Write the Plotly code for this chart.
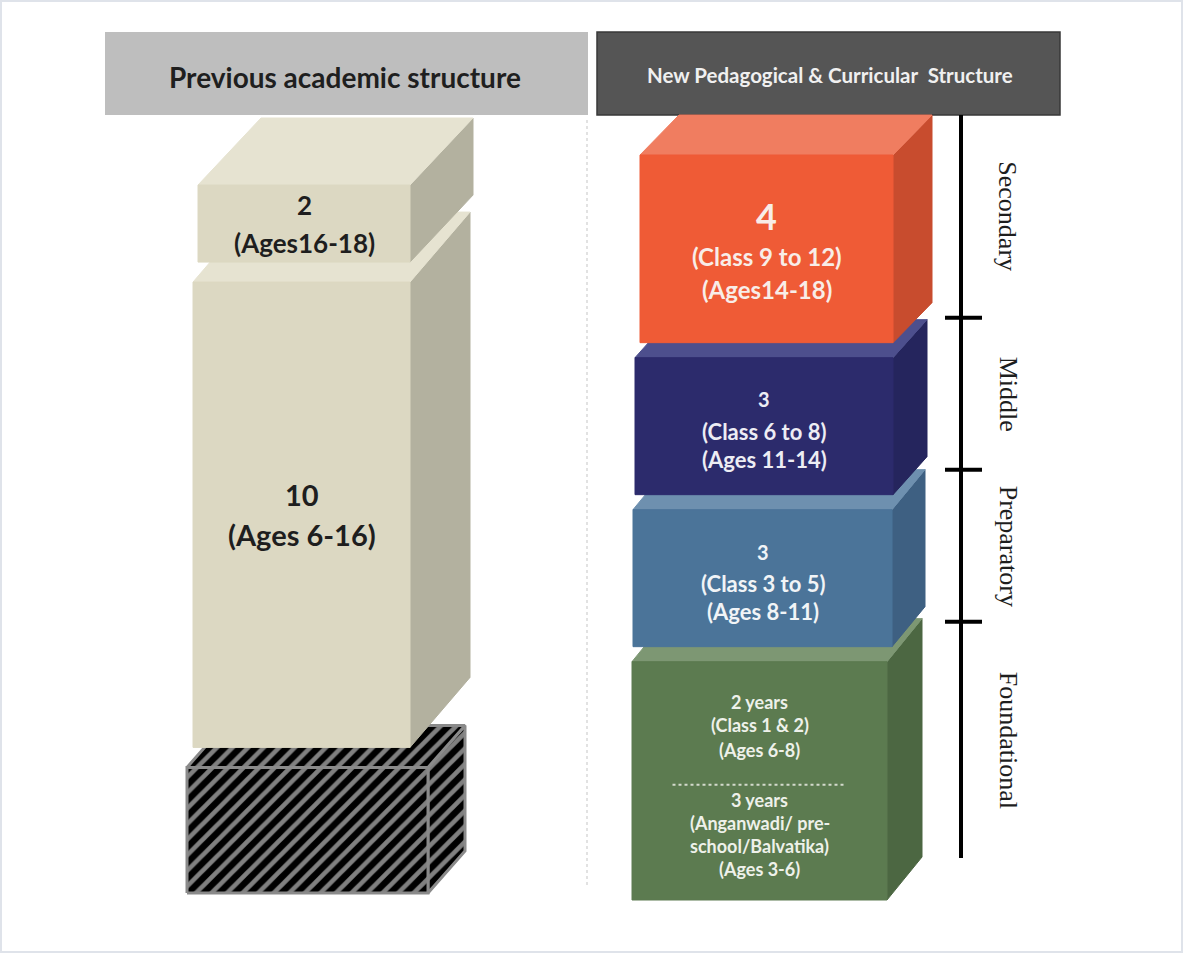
import plotly.graph_objects as go

# ---------------- data ----------------
# Previous 10+2 structure (bottom to top)
old_years = [10, 2]
old_age_start = [6, 16]
old_age_end = [16, 18]
old_age_text = ["(Ages 6-16)", "(Ages16-18)"]

# Ages 3-6 were outside the previous structure (hatched block)
uncovered_age_start = 3
uncovered_age_end = 6

# New 5+3+3+4 structure (bottom to top)
new_stages = ["Foundational", "Preparatory", "Middle", "Secondary"]
new_years = [5, 3, 3, 4]
new_age_start = [3, 8, 11, 14]
new_age_end = [8, 11, 14, 18]
new_class_text = ["(Class 1 & 2)", "(Class 3 to 5)", "(Class 6 to 8)", "(Class 9 to 12)"]
new_age_text = ["(Ages 6-8)", "(Ages 8-11)", "(Ages 11-14)", "(Ages14-18)"]

# Foundational stage: school years on top, pre-school years below
foundational_part_years = [2, 3]
foundational_part_text = [
    ["(Class 1 & 2)", "(Ages 6-8)"],
    ["(Anganwadi/ pre-", "school/Balvatika)", "(Ages 3-6)"],
]

# ---------------- layout / styles ----------------
W, H = 1183, 953
AGE_MIN = min(new_age_start)
AGE_MAX = max(new_age_end)

LEFT_PX = (165, 893)    # pixel rows of AGE_MAX / AGE_MIN, previous column
RIGHT_PX = (140, 900)   # pixel rows of AGE_MAX / AGE_MIN, new column
LEFT_GAP, RIGHT_GAP = 20, 15

FONT = "Lato, 'Open Sans', sans-serif"
SERIF = "'Liberation Serif', 'DejaVu Serif', serif"


def age_axis(top_px, bot_px):
    s = (bot_px - top_px) / (AGE_MAX - AGE_MIN)
    return [AGE_MIN - (H - bot_px) / s, AGE_MAX + top_px / s], s


left_range, sL = age_axis(*LEFT_PX)
right_range, sR = age_axis(*RIGHT_PX)

beige = dict(front="#DCD8C2", top="#E6E3D1", side="#B3B19F")
old_box_style = [
    dict(x0=193, x1=410, dx=60, depth=70, num=29, size=29, offs=[-20, 20], **beige),
    dict(x0=198, x1=410, dx=63, depth=67, num=26, size=26, offs=[-19, 19], **beige),
]
uncovered_style = dict(x0=187, x1=428, dx=37, depth=42)
new_box_style = [
    dict(x0=632, x1=887, dx=35, depth=43, front="#5C7B50", top="#7D9773", side="#4C6742",
         text="#EEF1EA", num=18, size=18, offs=None),
    dict(x0=633, x1=892, dx=33, depth=40, front="#4B7499", top="#6E90AF", side="#3E6082",
         text="#F1F4F7", num=20, size=22, offs=[-26, 5, 33]),
    dict(x0=635, x1=893, dx=34, depth=38, front="#2C2B6C", top="#4D4F8D", side="#25255D",
         text="#EDEDF4", num=20, size=22, offs=[-27, 5, 33]),
    dict(x0=640, x1=893, dx=39, depth=40, front="#EF5B36", top="#F07D60", side="#C84C2E",
         text="#F8EDE8", num=36, size=24, offs=[-33, 8, 41]),
]

fig = go.Figure()


def poly(xs, ys, yaxis, color, line=None, pattern=None):
    kw = dict(
        x=xs + [xs[0]], y=ys + [ys[0]], mode="lines", fill="toself",
        fillcolor=color, yaxis=yaxis, hoverinfo="skip", showlegend=False,
        line=line or dict(color=color, width=1),
    )
    if pattern:
        kw["fillpattern"] = pattern
    fig.add_trace(go.Scatter(**kw))


def add_box(yaxis, s, age_lo, age_hi, gap, st, pattern=None, line=None):
    y_top = age_hi - gap / s
    y_bot = age_lo
    dy = st["depth"] / s
    x0, x1, dx = st["x0"], st["x1"], st["dx"]
    poly([x1, x1 + dx, x1 + dx, x1], [y_bot, y_bot + dy, y_top + dy, y_top],
         yaxis, st.get("side", "#000"), line, pattern)
    poly([x0, x1, x1 + dx, x0 + dx], [y_top, y_top, y_top + dy, y_top + dy],
         yaxis, st.get("top", "#000"), line, pattern)
    poly([x0, x1, x1, x0], [y_bot, y_bot, y_top, y_top],
         yaxis, st.get("front", "#000"), line, pattern)
    return (x0 + x1) / 2, (y_top + y_bot) / 2


def add_text(x, y, yref, shift, text, size, color):
    fig.add_annotation(
        x=x, y=y, xref="x", yref=yref, yshift=-shift, text=f"<b>{text}</b>",
        showarrow=False, xanchor="center", yanchor="middle",
        font=dict(family=FONT, size=size, color=color),
    )


# ---- previous structure (left) ----
add_box("y", sL, uncovered_age_start, uncovered_age_end, LEFT_GAP, uncovered_style,
        pattern=dict(shape="/", bgcolor="#000000", fgcolor="#FFFFFF", size=11, solidity=0.42),
        line=dict(color="#8A8A8A", width=3))

for i, yrs in enumerate(old_years):
    st = old_box_style[i]
    cx, cy = add_box("y", sL, old_age_start[i], old_age_end[i], LEFT_GAP, st)
    add_text(cx, cy, "y", st["offs"][0], str(yrs), st["num"], "#1E1E1E")
    add_text(cx, cy, "y", st["offs"][1], old_age_text[i], st["size"], "#1E1E1E")

# ---- new structure (right) ----
for i, yrs in enumerate(new_years):
    st = new_box_style[i]
    cx, cy = add_box("y2", sR, new_age_start[i], new_age_end[i], RIGHT_GAP, st)
    if i == 0:
        lines = [f"{foundational_part_years[0]} years"] + foundational_part_text[0]
        offs = [-79, -56, -31]
        lines += [f"{foundational_part_years[1]} years"] + foundational_part_text[1]
        offs += [19, 42, 65, 88]
        for t, o in zip(lines, offs):
            add_text(cx, cy, "y2", o, t, st["size"], st["text"])
        ydot = cy - 4 / sR
        fig.add_shape(type="line", xref="x", yref="y2", x0=cx - 87, x1=cx + 85,
                      y0=ydot, y1=ydot, line=dict(color="#D3DACC", width=2, dash="dot"))
    else:
        offs = st["offs"]
        add_text(cx, cy, "y2", offs[0], str(yrs), st["num"], st["text"])
        add_text(cx, cy, "y2", offs[1], new_class_text[i], st["size"], st["text"])
        add_text(cx, cy, "y2", offs[2], new_age_text[i], st["size"], st["text"])

# ---- stage bracket on the right ----
BRACKET_X = 961
TICK_DEPTH = 40
tick_age = lambda a: a + (TICK_DEPTH - RIGHT_GAP) / sR
line_top = tick_age(AGE_MAX)
line_bot = AGE_MIN + 42 / sR
fig.add_shape(type="line", xref="x", yref="y2", x0=BRACKET_X, x1=BRACKET_X,
              y0=line_bot, y1=line_top, line=dict(color="#000000", width=4))
bounds = [line_bot] + [tick_age(a) for a in new_age_end[:-1]] + [line_top]
for b in bounds[1:-1]:
    fig.add_shape(type="line", xref="x", yref="y2", x0=BRACKET_X - 16, x1=BRACKET_X + 21,
                  y0=b, y1=b, line=dict(color="#000000", width=4))
for i, name in enumerate(new_stages):
    fig.add_annotation(
        x=1008, y=(bounds[i] + bounds[i + 1]) / 2, xref="x", yref="y2",
        text=name, textangle=90, showarrow=False, xanchor="center", yanchor="middle",
        font=dict(family=SERIF, size=26, color="#1E1E1E"),
    )

# ---- headers, divider and frame ----
py = lambda p: 1 - p / H
fig.add_shape(type="rect", xref="x", yref="paper", x0=105, x1=588, y0=py(115), y1=py(32),
              fillcolor="#BEBEBE", line=dict(width=0), layer="below")
fig.add_shape(type="rect", xref="x", yref="paper", x0=597, x1=1060, y0=py(115), y1=py(32),
              fillcolor="#555555", line=dict(color="#393939", width=1.5), layer="below")
fig.add_annotation(x=345, y=py(77), xref="x", yref="paper", showarrow=False,
                   xanchor="center", yanchor="middle",
                   text="<b>Previous academic structure</b>",
                   font=dict(family=FONT, size=28, color="#1F1F1F"))
fig.add_annotation(x=830, y=py(75), xref="x", yref="paper", showarrow=False,
                   xanchor="center", yanchor="middle",
                   text="<b>New Pedagogical &amp; Curricular  Structure</b>",
                   font=dict(family=FONT, size=20.5, color="#F0F0F0"))
fig.add_shape(type="line", xref="x", yref="paper", x0=587, x1=587, y0=py(885), y1=py(117),
              line=dict(color="#E2E2E2", width=2, dash="dot"))
fig.add_shape(type="rect", xref="paper", yref="paper", x0=0, x1=1, y0=0, y1=1,
              line=dict(color="#DFE3EA", width=4))

fig.update_layout(
    width=W, height=H, margin=dict(l=0, r=0, t=0, b=0),
    paper_bgcolor="white", plot_bgcolor="white", showlegend=False,
    xaxis=dict(range=[0, W], visible=False, fixedrange=True),
    yaxis=dict(range=left_range, visible=False, fixedrange=True),
    yaxis2=dict(range=right_range, visible=False, fixedrange=True, overlaying="y"),
)

fig.write_html("out.html")
